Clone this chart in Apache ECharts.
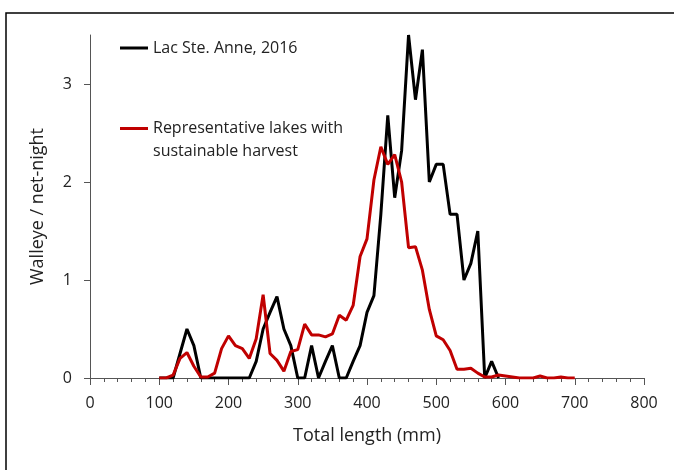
<!DOCTYPE html>
<html>
<head>
<meta charset="utf-8">
<script src="https://cdn.jsdelivr.net/npm/echarts@6/dist/echarts.min.js"></script>
<style>html,body{margin:0;padding:0;background:#fff;}#c{width:674px;height:470px;}</style>
</head>
<body>
<div id="c"></div>
<script>
// Total length (mm) bins
var lacLengths = [100,110,120,130,140,150,160,170,180,190,200,210,220,230,240,250,260,270,280,290,300,310,320,330,340,350,360,370,380,390,400,410,420,430,440,450,460,470,480,490,500,510,520,530,540,550,560,570,580,590];
var lacValues  = [0,0,0,0.25,0.5,0.33,0,0,0,0,0,0,0,0,0.17,0.5,0.67,0.83,0.5,0.33,0,0,0.33,0,0.17,0.33,0,0,0.17,0.33,0.67,0.84,1.67,2.68,1.84,2.32,3.5,2.84,3.35,2.0,2.18,2.18,1.67,1.67,1.0,1.17,1.5,0.0,0.17,0];
var repLengths = [100,110,120,130,140,150,160,170,180,190,200,210,220,230,240,250,260,270,280,290,300,310,320,330,340,350,360,370,380,390,400,410,420,430,440,450,460,470,480,490,500,510,520,530,540,550,560,570,580,590,600,610,620,630,640,650,660,670,680,690,700];
var repValues  = [0,0,0.03,0.2,0.26,0.12,0.01,0.01,0.05,0.3,0.43,0.33,0.3,0.2,0.4,0.85,0.25,0.18,0.07,0.27,0.29,0.55,0.44,0.44,0.42,0.45,0.64,0.59,0.74,1.24,1.42,2.02,2.36,2.18,2.28,2.0,1.33,1.34,1.1,0.7,0.43,0.39,0.28,0.09,0.09,0.1,0.05,0.01,0.01,0.03,0.02,0.01,0,0,0,0.02,0,0,0.01,0,0];
var xTicks = [0,100,200,300,400,500,600,700,800];
var yTicks = [0,1,2,3];
var nameLac = 'Lac Ste. Anne, 2016';
var nameRep = 'Representative lakes with\nsustainable harvest';

function pairs(xs, ys){ return xs.map(function(x,i){ return [x, ys[i]]; }); }

var font = '"Open Sans", sans-serif';
var chart = echarts.init(document.getElementById('c'), null, {renderer:'canvas'});
chart.setOption({
  animation:false,
  backgroundColor:'#fff',
  grid:{left:90, right:30, top:35, bottom:92, containLabel:false},
  graphic:[{type:'rect', shape:{x:6, y:13, width:700, height:500}, style:{fill:'none', stroke:'#000', lineWidth:1.5}, silent:true, z:-1}],
  legend:[
    {data:[nameLac], left:115, top:32, orient:'vertical', itemWidth:28, itemHeight:22, itemGap:0,
     icon:'path://M0,9.5 L28,9.5 L28,12.5 L0,12.5 Z M0,0 L0.01,0 L0.01,0.01 Z M0,22 L0.01,22 L0.01,21.99 Z',
     textStyle:{fontFamily:font, fontSize:16, color:'#222'}},
    {data:[nameRep], left:115, top:112, orient:'vertical', itemWidth:28, itemHeight:46, itemGap:0,
     icon:'path://M0,10 L28,10 L28,13 L0,13 Z M0,0 L0.01,0 L0.01,0.01 Z M0,46 L0.01,46 L0.01,45.99 Z',
     textStyle:{fontFamily:font, fontSize:16, color:'#222', lineHeight:23}}
  ],
  xAxis:{
    type:'value', min:0, max:800, interval:100,
    name:'Total length (mm)', nameLocation:'middle', nameGap:49,
    nameTextStyle:{fontFamily:font, fontSize:18, color:'#222'},
    axisLine:{show:true, lineStyle:{color:'#555', width:1}},
    axisTick:{show:true, inside:false, length:7, lineStyle:{color:'#555'}},
    minorTick:{show:true, splitNumber:5, length:4, lineStyle:{color:'#555'}},
    splitLine:{show:false},
    axisLabel:{fontFamily:font, fontSize:16, color:'#222', margin:17,
      customValues: xTicks}
  },
  yAxis:{
    type:'value', min:0, max:3.5,
    name:'Walleye / net-night', nameLocation:'middle', nameGap:43, nameRotate:90,
    nameTextStyle:{fontFamily:font, fontSize:18, color:'#222'},
    axisLine:{show:true, lineStyle:{color:'#555', width:1}},
    axisTick:{show:true, inside:false, length:6, lineStyle:{color:'#555'}, customValues:yTicks},
    splitLine:{show:false},
    axisLabel:{fontFamily:font, fontSize:16, color:'#222', margin:18, customValues:yTicks}
  },
  series:[
    {name:nameLac, type:'line', data:pairs(lacLengths, lacValues), showSymbol:false, symbol:'none',
     lineStyle:{color:'#000', width:3}, itemStyle:{color:'#000'}, z:3},
    {name:nameRep, type:'line', data:pairs(repLengths, repValues), showSymbol:false, symbol:'none',
     lineStyle:{color:'#C00000', width:3}, itemStyle:{color:'#C00000'}, z:4}
  ]
});
</script>
</body>
</html>
